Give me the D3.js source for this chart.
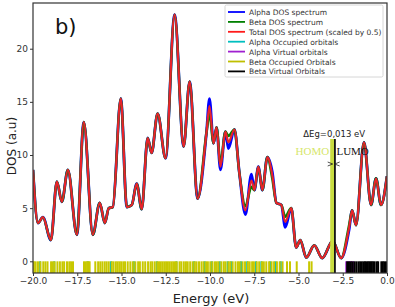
<!DOCTYPE html>
<html lang="en">
<head>
<meta charset="UTF-8">
<title>DOS spectrum</title>
<style>
body { margin: 0; background: #fff; }
text { font-family: 'DejaVu Sans', sans-serif; }
</style>
</head>
<body>
<svg width="395" height="307"></svg>
<script src="https://d3js.org/d3.v7.min.js"></script>
<script>

// energies (eV) at which the spectra were read
var energy = [-20.0, -19.72, -19.44, -18.99, -18.65, -18.37, -18.03, -17.52, -17.13, -16.62,
    -16.23, -15.94, -15.72, -15.49, -15.04, -14.70, -14.42, -14.14, -13.86, -13.52,
    -13.30, -12.96, -12.51, -12.0, -11.49, -11.15, -10.70, -10.20, -10.03, -9.80,
    -9.63, -9.41, -9.13, -8.96, -8.62, -8.34, -8.0, -7.66, -7.49, -7.27,
    -7.04, -6.76, -6.48, -6.25, -5.97, -5.75, -5.41, -5.13, -4.90, -4.56,
    -4.11, -3.66, -3.07, -2.59, -2.14, -1.97, -1.75, -1.30, -0.90, -0.62,
    -0.34, 0.0];

var alphaDos = [8.6, 3.6, 4.15, 2.0, 7.5, 5.6, 8.6, 2.5, 13.1, 2.5,
    5.5, 3.6, 5.0, 5.1, 15.3, 5.1, 5.3, 7.3, 4.9, 11.6,
    10.2, 13.9, 9.7, 23.2, 10.8, 16.9, 5.9, 12.1, 15.3, 11.1,
    12.6, 8.6, 12.2, 10.6, 12.4, 8.3, 4.4, 8.2, 6.7, 8.9,
    6.7, 9.8, 8.4, 5.5, 5.3, 3.2, 5.0, 1.3, 2.0, 0.35,
    1.5, 0.3, 1.9, 0.3, 3.0, 4.8, 3.4, 11.2, 5.3, 7.8,
    5.3, 8.0];

var betaDos = [8.6, 3.6, 4.15, 2.0, 7.5, 5.6, 8.6, 2.5, 13.1, 2.5,
    5.5, 3.6, 5.0, 5.1, 15.3, 5.1, 5.3, 7.3, 4.9, 11.6,
    10.2, 13.9, 9.7, 23.2, 10.8, 16.9, 5.9, 12.1, 13.9, 11.1,
    12.6, 9.2, 12.2, 11.8, 12.4, 8.3, 5.2, 7.0, 6.7, 8.9,
    6.7, 9.8, 7.8, 5.5, 5.3, 4.2, 5.0, 1.3, 2.0, 0.35,
    1.5, 0.3, 1.9, 0.3, 3.4, 4.8, 3.4, 11.2, 5.3, 7.8,
    5.3, 8.0];

var totalDos = [8.6, 3.6, 4.15, 2.0, 7.5, 5.6, 8.6, 2.5, 13.1, 2.5,
    5.5, 3.6, 5.0, 5.1, 15.3, 5.1, 5.3, 7.3, 4.9, 11.6,
    10.2, 13.9, 9.7, 23.2, 10.8, 16.9, 5.9, 12.1, 14.6, 11.1,
    12.6, 8.9, 12.2, 11.2, 12.4, 8.3, 4.8, 7.6, 6.7, 8.9,
    6.7, 9.8, 8.1, 5.5, 5.3, 3.7, 5.0, 1.3, 2.0, 0.35,
    1.5, 0.3, 1.9, 0.3, 3.2, 4.8, 3.4, 11.2, 5.3, 7.8,
    5.3, 8.0];

// orbital energies (eV)
var alphaOccupied = [-19.6, -18.8, -16.9, -15.6, -14.3, -13.0, -11.9, -10.9, -10.3, -9.9,
    -9.45, -9.0, -8.8, -8.25, -7.9, -7.4, -7.1, -6.6, -6.3, -6.0];

var alphaVirtual = [-2.3, -2.22, -2.12, -2.02, -1.9];

var betaOccupied = [-19.95, -19.85, -19.72, -19.58, -19.42, -19.3, -19.18, -18.98, -18.88, -18.78,
    -18.62, -18.48, -18.34, -18.24, -18.08, -17.95, -17.85, -17.74, -17.12, -17.02,
    -16.94, -16.86, -16.8, -16.48, -16.32, -16.2, -16.08, -15.95, -15.84, -15.72,
    -15.55, -15.45, -15.32, -15.22, -15.12, -15.02, -14.9, -14.8, -14.65, -14.5,
    -14.36, -14.22, -14.06, -13.96, -13.8, -13.66, -13.5, -13.36, -13.26, -13.12,
    -12.98, -12.88, -12.78, -12.68, -12.58, -12.48, -12.38, -12.28, -12.18, -12.08,
    -11.98, -11.88, -11.72, -11.62, -11.48, -11.36, -11.26, -11.12, -10.98, -10.86,
    -10.76, -10.62, -10.48, -10.36, -10.22, -10.12, -9.98, -9.86, -9.72, -9.62,
    -9.52, -9.36, -9.22, -9.12, -8.96, -8.86, -8.72, -8.56, -8.42, -8.32,
    -8.16, -8.02, -7.86, -7.76, -7.62, -7.52, -7.36, -7.22, -7.06, -6.96,
    -6.82, -6.66, -6.52, -6.38, -6.22, -6.06, -5.9, -5.65, -5.48, -5.1,
    -4.4, -4.26, -3.04];

var betaVirtual = [-2.25, -2.15, -2.05, -1.96, -1.85, -1.74, -1.62, -1.52, -1.42, -1.32,
    -1.24, -1.16, -1.08, -1.0, -0.93, -0.86, -0.78, -0.7, -0.58, -0.5,
    -0.32, -0.24, -0.16, -0.06];

var homo = -3.04, lumo = -3.027;

var xTicks = [-20, -17.5, -15, -12.5, -10, -7.5, -5, -2.5, 0];
var yTicks = [0, 5, 10, 15, 20];

var legendItems = [
    {label: "Alpha DOS spectrum", color: "#0000ff"},
    {label: "Beta DOS spectrum", color: "#008000"},
    {label: "Total DOS spectrum (scaled by 0.5)", color: "#ff1a1a"},
    {label: "Alpha Occupied orbitals", color: "#00bfbf"},
    {label: "Alpha Virtual orbitals", color: "#a020d0"},
    {label: "Beta Occupied Orbitals", color: "#bfbf00"},
    {label: "Beta Virtual Orbitals", color: "#000000"}
];

var svg = d3.select("svg");
var plot = {left: 33, right: 387, top: 3, bottom: 273};

var x = d3.scaleLinear().domain([-20, 0]).range([plot.left, plot.right]);
var y = d3.scaleLinear().domain([-1.1, 24.3]).range([plot.bottom, plot.top]);

svg.append("clipPath").attr("id", "clip")
    .append("rect")
    .attr("x", plot.left).attr("y", plot.top)
    .attr("width", plot.right - plot.left).attr("height", plot.bottom - plot.top);

var g = svg.append("g").attr("clip-path", "url(#clip)");

// orbital sticks
function sticks(list, color) {
    g.selectAll(null)
        .data(list)
        .enter()
        .append("line")
        .attr("x1", function(d) { return x(d); })
        .attr("x2", function(d) { return x(d); })
        .attr("y1", y(0))
        .attr("y2", y(-1.1))
        .attr("stroke", color)
        .attr("stroke-width", 2);
}
sticks(alphaOccupied, "#00bfbf");
sticks(alphaVirtual, "#a020d0");
sticks(betaOccupied, "#c8c800");
sticks(betaVirtual, "#000000");

// spectra
var line = d3.line()
    .x(function(d) { return x(d[0]); })
    .y(function(d) { return y(d[1]); })
    .curve(d3.curveMonotoneX);

function spectrum(values, color, width) {
    g.append("path")
        .datum(d3.zip(energy, values))
        .attr("d", line)
        .attr("fill", "none")
        .attr("stroke", color)
        .attr("stroke-width", width);
}
spectrum(alphaDos, "#0000ff", 2.8);
spectrum(betaDos, "#008000", 2.6);
spectrum(totalDos, "#e8222c", 2.2);

// HOMO / LUMO markers
var markTop = 139;
svg.append("line")
    .attr("x1", x(homo) - 1).attr("x2", x(homo) - 1)
    .attr("y1", markTop).attr("y2", plot.bottom)
    .attr("stroke", "#c8dc40").attr("stroke-width", 4);
svg.append("line")
    .attr("x1", x(lumo) + 1.5).attr("x2", x(lumo) + 1.5)
    .attr("y1", markTop).attr("y2", plot.bottom)
    .attr("stroke", "#111").attr("stroke-width", 1.8);

svg.append("text")
    .attr("x", x(homo) - 4).attr("y", 155)
    .attr("text-anchor", "end")
    .style("font-family", "'Liberation Serif', 'DejaVu Serif', serif")
    .style("font-size", "11px")
    .attr("fill", "#d6e66a")
    .text("HOMO");
svg.append("text")
    .attr("x", x(lumo) + 3).attr("y", 155)
    .style("font-family", "'Liberation Serif', 'DejaVu Serif', serif")
    .style("font-size", "11px")
    .attr("fill", "#111")
    .text("LUMO");
svg.append("text")
    .attr("x", x(homo) + 1).attr("y", 137)
    .attr("text-anchor", "middle")
    .style("font-size", "8.5px")
    .attr("fill", "#222")
    .text("\u0394Eg=0,013 eV");

// little arrows pointing at the gap
var ax = x(homo) + 0.5, ay = 164;
svg.append("path")
    .attr("d", "M" + (ax - 6) + "," + (ay - 2) + "L" + (ax - 1) + "," + ay + "L" + (ax - 6) + "," + (ay + 2)
        + "M" + (ax + 6) + "," + (ay - 2) + "L" + (ax + 1) + "," + ay + "L" + (ax + 6) + "," + (ay + 2))
    .attr("fill", "none")
    .attr("stroke", "#222")
    .attr("stroke-width", 0.8);

// axes
var xAxis = d3.axisBottom(x)
    .tickValues(xTicks)
    .tickFormat(d3.format(".1f"))
    .tickSize(3)
    .tickPadding(2);
var yAxis = d3.axisLeft(y)
    .tickValues(yTicks)
    .tickSize(3)
    .tickPadding(2);

var xg = svg.append("g")
    .attr("transform", "translate(0," + plot.bottom + ")")
    .call(xAxis);
var yg = svg.append("g")
    .attr("transform", "translate(" + plot.left + ",0)")
    .call(yAxis);

[xg, yg].forEach(function(a) {
    a.select(".domain").remove();
    a.selectAll("text")
        .style("font-family", "'DejaVu Sans', sans-serif")
        .style("font-size", "9px")
        .attr("fill", "#333");
    a.selectAll("line").attr("stroke", "#333");
});
xg.selectAll("text").text(function(d) { return d3.format(".1f")(d).replace("-", "\u2212"); });

svg.append("rect")
    .attr("x", plot.left).attr("y", plot.top)
    .attr("width", plot.right - plot.left).attr("height", plot.bottom - plot.top)
    .attr("fill", "none")
    .attr("stroke", "#333")
    .attr("stroke-width", 1.2);

// labels
svg.append("text")
    .attr("x", 211).attr("y", 303)
    .attr("text-anchor", "middle")
    .style("font-size", "13px")
    .attr("fill", "#222")
    .text("Energy (eV)");

svg.append("text")
    .attr("transform", "translate(16,146) rotate(-90)")
    .attr("text-anchor", "middle")
    .style("font-size", "12px")
    .attr("fill", "#222")
    .text("DOS (a.u)");

svg.append("text")
    .attr("x", 55).attr("y", 34)
    .style("font-size", "21px")
    .attr("fill", "#111")
    .text("b)");

// legend
var legend = svg.append("g").attr("transform", "translate(225,5)");
legend.append("rect")
    .attr("width", 158).attr("height", 72)
    .attr("fill", "#fff")
    .attr("stroke", "#ccc")
    .attr("stroke-width", 0.8)
    .attr("rx", 1.5);

var rows = legend.selectAll(".row")
    .data(legendItems)
    .enter()
    .append("g")
    .attr("class", "row")
    .attr("transform", function(d, i) { return "translate(0," + (7 + i * 9.9) + ")"; });

rows.append("line")
    .attr("x1", 3).attr("x2", 20)
    .attr("stroke", function(d) { return d.color; })
    .attr("stroke-width", 1.8);

rows.append("text")
    .attr("x", 24).attr("y", 3)
    .style("font-size", "7.5px")
    .attr("fill", "#333")
    .text(function(d) { return d.label; });

</script>
</body>
</html>
